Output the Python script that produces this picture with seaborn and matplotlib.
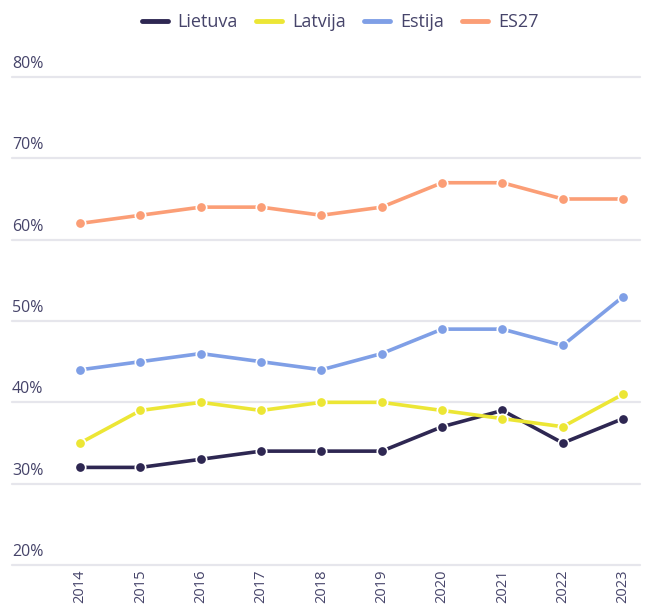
import matplotlib
matplotlib.use("Agg")
import matplotlib.pyplot as plt
import matplotlib.transforms as mtransforms
import seaborn as sns
import pandas as pd

years = [2014, 2015, 2016, 2017, 2018, 2019, 2020, 2021, 2022, 2023]
lietuva = [32, 32, 33, 34, 34, 34, 37, 39, 35, 38]
latvija = [35, 39, 40, 39, 40, 40, 39, 38, 37, 41]
estija = [44, 45, 46, 45, 44, 46, 49, 49, 47, 53]
es27 = [62, 63, 64, 64, 63, 64, 67, 67, 65, 65]
series_names = ["Lietuva", "Latvija", "Estija", "ES27"]
colors = ["#2e2752", "#ece635", "#7f9fe6", "#fb9e76"]
y_ticks = [20, 30, 40, 50, 60, 70, 80]

sns.set_theme(style="white")
plt.rcParams['font.family'] = ['Open Sans', 'DejaVu Sans']
text_color = "#46446a"

rows = []
for name, vals in zip(series_names, [lietuva, latvija, estija, es27]):
    for i, (y, v) in enumerate(zip(years, vals)):
        rows.append({"pos": i, "year": y, "value": v, "series": name})
df = pd.DataFrame(rows)

fig = plt.figure(figsize=(6.54, 6.08), dpi=100)
ax = fig.add_axes([12/654, (608-565)/608, (640-12)/654, (565-77)/608])

for yt in y_ticks:
    ax.axhline(yt, color="#e6e6ec", lw=1.6, zorder=0, clip_on=False)

sns.lineplot(data=df, x="pos", y="value", hue="series", hue_order=series_names,
             palette=colors, marker="o", markersize=7.5, markeredgecolor="white",
             markeredgewidth=1.2, linewidth=2.6, ax=ax, legend=True)

ax.set_xlim(-1.13, 9.28)
ax.set_ylim(20, 80)
ax.set_xticks(range(len(years)))
ax.set_xticklabels([str(y) for y in years], rotation=90, fontsize=10.5, color=text_color)
ax.tick_params(axis="x", length=0, pad=3)
ax.set_yticks([])
ax.set_xlabel("")
ax.set_ylabel("")
for s in ax.spines.values():
    s.set_visible(False)

trans = mtransforms.blended_transform_factory(ax.transAxes, ax.transData)
for yt in y_ticks:
    ax.text(0.0, yt + 0.6, f"{yt}%", transform=trans, ha="left", va="bottom",
            fontsize=11.5, color=text_color)

handles, labels = ax.get_legend_handles_labels()
for h in handles:
    h.set_marker("")
    h.set_linewidth(3.5)
ax.legend(handles, labels, loc="upper center", bbox_to_anchor=(0.52, 1.005),
          bbox_transform=fig.transFigure, ncol=4, frameon=False, fontsize=13,
          handlelength=1.45, columnspacing=1.0, handletextpad=0.55, labelcolor=text_color)

fig.savefig("out.png", dpi=100)
